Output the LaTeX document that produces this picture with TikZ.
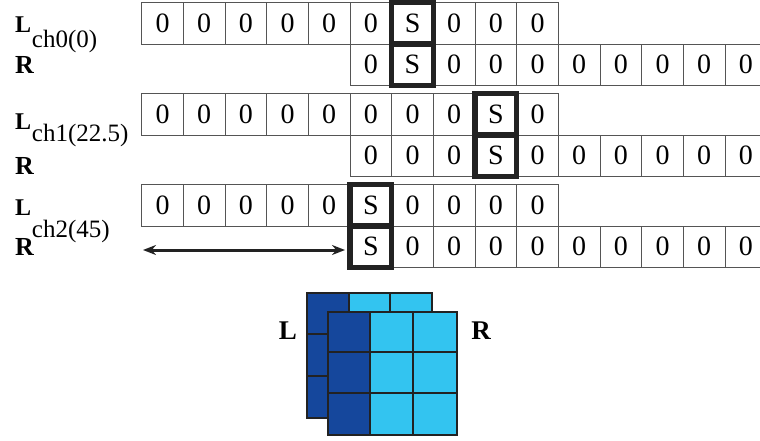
\documentclass[tikz,border=0pt]{standalone}
\usepackage{fontspec}
\setmainfont{Liberation Serif}
\usetikzlibrary{arrows.meta}
\definecolor{darkb}{HTML}{15479C}
\definecolor{lightb}{HTML}{33C4F0}
\definecolor{edge}{HTML}{222222}
\definecolor{thin}{HTML}{555555}
\begin{document}
\begin{tikzpicture}[x=1pt,y=-1pt,
  cell/.style={draw=thin,line width=0.9pt,minimum width=41.67pt,minimum height=41.5pt,inner sep=0pt,outer sep=0pt,font=\fontsize{28}{30}\selectfont},
  sbox/.style={draw=edge,line width=5.5pt},
  lab/.style={inner sep=0pt,anchor=base west},
  biglab/.style={lab,font=\fontsize{24}{28}\selectfont\bfseries},
  bigR/.style={lab,font=\fontsize{26}{30}\selectfont\bfseries},
  chlab/.style={lab,font=\fontsize{25}{30}\selectfont},
  dbl/.style={{Stealth[length=13pt,width=10pt]}-{Stealth[length=13pt,width=10pt]},line width=3pt,draw=edge},
  gridline/.style={draw=edge,line width=2pt},
  cubelab/.style={inner sep=0pt,font=\fontsize{27}{30}\selectfont\bfseries}]
\useasboundingbox (0,0) rectangle (760,441);
% rows of cells
\foreach \g/\y/\sL/\sR in {1/2.5/7/2, 2/93.5/9/4, 3/184.5/6/1}{
  \foreach \i in {1,...,10}{
    \node[cell] (L\g-\i) at ({141.7+(\i-0.5)*41.67},{\y+20.75}) {\ifnum\i=\sL S\else 0\fi};
    \node[cell] (R\g-\i) at ({350+(\i-0.5)*41.67},{\y+62.25}) {\ifnum\i=\sR S\else 0\fi};
  }
}
% thick S boxes
\draw[sbox] (L1-7.north west) rectangle (L1-7.south east);
\draw[sbox] (R1-2.north west) rectangle (R1-2.south east);
\draw[sbox] (L2-9.north west) rectangle (L2-9.south east);
\draw[sbox] (R2-4.north west) rectangle (R2-4.south east);
\draw[sbox] (L3-6.north west) rectangle (L3-6.south east);
\draw[sbox] (R3-1.north west) rectangle (R3-1.south east);
% labels
\node[biglab] (l0) at (15,33) {L};
\node[chlab] (c0) at (31.7,48) {ch0(0)};
\node[bigR] (r0) at (15,74) {R};
\node[biglab] (l1) at (15,130) {L};
\node[chlab] (c1) at (31.7,141.7) {ch1(22.5)};
\node[bigR] (r1) at (15,175) {R};
\node[biglab] (l2) at (15,215) {L};
\node[chlab] (c2) at (31.7,237) {ch2(45)};
\node[bigR] (r2) at (15,255) {R};
% arrow
\coordinate (arrL) at (143,250);
\draw[dbl] (arrL) -- ([xshift=-5pt,yshift=-3.25pt]R3-1.west);
% back grid
\fill[lightb] (307.3,292.7) rectangle (431.7,418.3);
\fill[darkb] (307.3,292.7) rectangle (349,418.3);
\draw[gridline] (307.3,292.7) rectangle (431.7,418.3);
\draw[gridline] (349,292.7) -- (349,418.3) (390,292.7) -- (390,418.3)
  (307.3,334.3) -- (431.7,334.3) (307.3,376.3) -- (431.7,376.3);
% front grid
\fill[lightb] (328.3,311.7) rectangle (457.3,435);
\fill[darkb] (328.3,311.7) rectangle (370,435);
\draw[gridline] (328.3,311.7) rectangle (457.3,435);
\draw[gridline] (370,311.7) -- (370,435) (412.7,311.7) -- (412.7,435)
  (328.3,351.7) -- (457.3,351.7) (328.3,393.3) -- (457.3,393.3);
\node[cubelab] (cl) at (288,331) {L};
\node[cubelab] (cr) at (481,331) {R};
\end{tikzpicture}
\end{document}
